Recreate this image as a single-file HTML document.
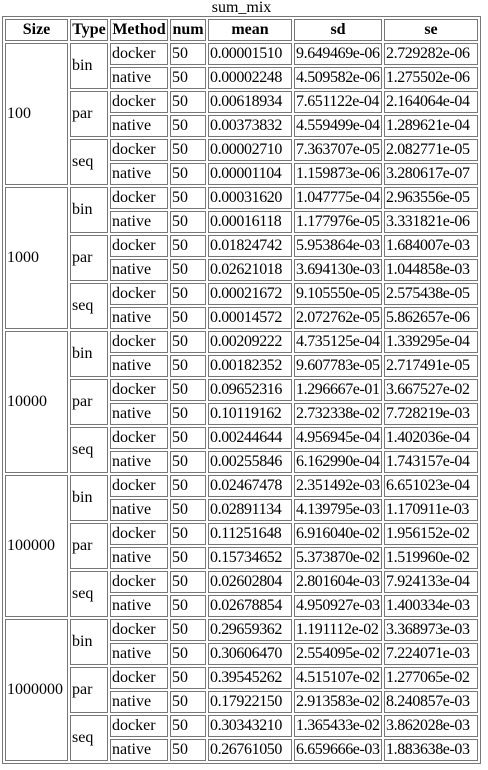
<!DOCTYPE html>
<html><head><meta charset="utf-8"><style>
body{margin:0;background:#fff;font-family:"Liberation Serif",serif;font-size:16px;color:#000}
table{margin:0 0 0 2px;border:1px solid #777;border-spacing:2px;table-layout:fixed;width:478px}
caption{height:16px;line-height:16px;text-align:center}
td,th{border:1px solid #777;padding:1px 1px;height:18px;line-height:18px;white-space:nowrap;overflow:hidden;box-sizing:content-box}
th{font-weight:bold;text-align:center}
td{text-align:left}
td:nth-last-child(-n+3){letter-spacing:-0.4px}
</style></head><body>
<table>
<caption>sum_mix</caption>
<colgroup><col style="width:63px"><col style="width:38px"><col style="width:58px"><col style="width:36px"><col style="width:84px"><col style="width:88px"><col style="width:94px"></colgroup>
<tr><th>Size</th><th>Type</th><th>Method</th><th>num</th><th>mean</th><th>sd</th><th>se</th></tr>
<tr><td rowspan="6">100</td><td rowspan="2">bin</td><td>docker</td><td>50</td><td>0.00001510</td><td>9.649469e-06</td><td>2.729282e-06</td></tr>
<tr><td>native</td><td>50</td><td>0.00002248</td><td>4.509582e-06</td><td>1.275502e-06</td></tr>
<tr><td rowspan="2">par</td><td>docker</td><td>50</td><td>0.00618934</td><td>7.651122e-04</td><td>2.164064e-04</td></tr>
<tr><td>native</td><td>50</td><td>0.00373832</td><td>4.559499e-04</td><td>1.289621e-04</td></tr>
<tr><td rowspan="2">seq</td><td>docker</td><td>50</td><td>0.00002710</td><td>7.363707e-05</td><td>2.082771e-05</td></tr>
<tr><td>native</td><td>50</td><td>0.00001104</td><td>1.159873e-06</td><td>3.280617e-07</td></tr>
<tr><td rowspan="6">1000</td><td rowspan="2">bin</td><td>docker</td><td>50</td><td>0.00031620</td><td>1.047775e-04</td><td>2.963556e-05</td></tr>
<tr><td>native</td><td>50</td><td>0.00016118</td><td>1.177976e-05</td><td>3.331821e-06</td></tr>
<tr><td rowspan="2">par</td><td>docker</td><td>50</td><td>0.01824742</td><td>5.953864e-03</td><td>1.684007e-03</td></tr>
<tr><td>native</td><td>50</td><td>0.02621018</td><td>3.694130e-03</td><td>1.044858e-03</td></tr>
<tr><td rowspan="2">seq</td><td>docker</td><td>50</td><td>0.00021672</td><td>9.105550e-05</td><td>2.575438e-05</td></tr>
<tr><td>native</td><td>50</td><td>0.00014572</td><td>2.072762e-05</td><td>5.862657e-06</td></tr>
<tr><td rowspan="6">10000</td><td rowspan="2">bin</td><td>docker</td><td>50</td><td>0.00209222</td><td>4.735125e-04</td><td>1.339295e-04</td></tr>
<tr><td>native</td><td>50</td><td>0.00182352</td><td>9.607783e-05</td><td>2.717491e-05</td></tr>
<tr><td rowspan="2">par</td><td>docker</td><td>50</td><td>0.09652316</td><td>1.296667e-01</td><td>3.667527e-02</td></tr>
<tr><td>native</td><td>50</td><td>0.10119162</td><td>2.732338e-02</td><td>7.728219e-03</td></tr>
<tr><td rowspan="2">seq</td><td>docker</td><td>50</td><td>0.00244644</td><td>4.956945e-04</td><td>1.402036e-04</td></tr>
<tr><td>native</td><td>50</td><td>0.00255846</td><td>6.162990e-04</td><td>1.743157e-04</td></tr>
<tr><td rowspan="6">100000</td><td rowspan="2">bin</td><td>docker</td><td>50</td><td>0.02467478</td><td>2.351492e-03</td><td>6.651023e-04</td></tr>
<tr><td>native</td><td>50</td><td>0.02891134</td><td>4.139795e-03</td><td>1.170911e-03</td></tr>
<tr><td rowspan="2">par</td><td>docker</td><td>50</td><td>0.11251648</td><td>6.916040e-02</td><td>1.956152e-02</td></tr>
<tr><td>native</td><td>50</td><td>0.15734652</td><td>5.373870e-02</td><td>1.519960e-02</td></tr>
<tr><td rowspan="2">seq</td><td>docker</td><td>50</td><td>0.02602804</td><td>2.801604e-03</td><td>7.924133e-04</td></tr>
<tr><td>native</td><td>50</td><td>0.02678854</td><td>4.950927e-03</td><td>1.400334e-03</td></tr>
<tr><td rowspan="6">1000000</td><td rowspan="2">bin</td><td>docker</td><td>50</td><td>0.29659362</td><td>1.191112e-02</td><td>3.368973e-03</td></tr>
<tr><td>native</td><td>50</td><td>0.30606470</td><td>2.554095e-02</td><td>7.224071e-03</td></tr>
<tr><td rowspan="2">par</td><td>docker</td><td>50</td><td>0.39545262</td><td>4.515107e-02</td><td>1.277065e-02</td></tr>
<tr><td>native</td><td>50</td><td>0.17922150</td><td>2.913583e-02</td><td>8.240857e-03</td></tr>
<tr><td rowspan="2">seq</td><td>docker</td><td>50</td><td>0.30343210</td><td>1.365433e-02</td><td>3.862028e-03</td></tr>
<tr><td>native</td><td>50</td><td>0.26761050</td><td>6.659666e-03</td><td>1.883638e-03</td></tr>
</table>
</body></html>
